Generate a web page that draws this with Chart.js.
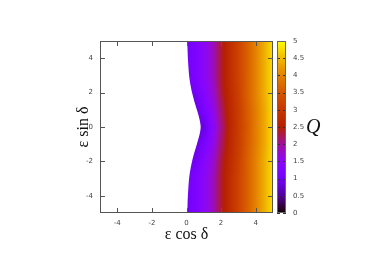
<!DOCTYPE html>
<html><head><meta charset="utf-8">
<script src="https://cdn.jsdelivr.net/npm/chart.js@4.4.0/dist/chart.umd.min.js"></script>
<style>
html,body{margin:0;padding:0;background:#fff;}
#wrap{position:relative;width:374px;height:262px;}
canvas{position:absolute;left:0;top:0;}
</style></head><body>
<div id="wrap"><canvas id="main" width="374" height="262"></canvas><canvas id="cbar" width="374" height="262"></canvas></div>
<script>
// boundary of the coloured region (eps cos delta at each eps sin delta)
const boundaryY = [-5,-4.5,-4,-3.5,-3,-2.5,-2,-1.5,-1,-0.5,0,0.5,1,1.5,2,2.5,3,3.5,4,4.5,5];
const boundaryX = [0.05,0.06,0.08,0.11,0.15,0.22,0.32,0.45,0.6,0.74,0.82,0.74,0.6,0.45,0.32,0.22,0.15,0.11,0.08,0.06,0.05];
// Q read on a coarse grid: columns = eps cos delta, rows = eps sin delta (null = outside the region)
const gridX = [0,0.5,1,1.5,2,2.5,3,3.5,4,4.5,5];
const gridY = [-5,-4,-3,-2,-1,0,1,2,3,4,5];
const qRowM5 = [1.0,1.2,1.45,1.8,2.35,2.8,3.2,3.6,4.0,4.4,4.8];
const qRowM4 = [1.0,1.2,1.45,1.8,2.35,2.8,3.2,3.6,4.0,4.4,4.8];
const qRowM3 = [1.0,1.2,1.45,1.8,2.35,2.8,3.2,3.6,4.0,4.4,4.8];
const qRowM2 = [null,1.0,1.35,1.7,2.3,2.75,3.15,3.6,4.0,4.4,4.8];
const qRowM1 = [null,0.8,1.15,1.55,2.15,2.7,3.1,3.55,3.95,4.35,4.8];
const qRow0  = [null,null,0.85,1.4,2.05,2.65,3.1,3.5,3.95,4.35,4.8];
const qRowP1 = [null,0.8,1.15,1.55,2.15,2.7,3.1,3.55,3.95,4.35,4.8];
const qRowP2 = [null,1.0,1.35,1.7,2.3,2.75,3.15,3.6,4.0,4.4,4.8];
const qRowP3 = [1.0,1.2,1.45,1.8,2.35,2.8,3.2,3.6,4.0,4.4,4.8];
const qRowP4 = [1.0,1.2,1.45,1.8,2.35,2.8,3.2,3.6,4.0,4.4,4.8];
const qRowP5 = [1.0,1.2,1.45,1.8,2.35,2.8,3.2,3.6,4.0,4.4,4.8];
const qRows = [qRowM5,qRowM4,qRowM3,qRowM2,qRowM1,qRow0,qRowP1,qRowP2,qRowP3,qRowP4,qRowP5];
const xTicks = [-4,-2,0,2,4];
const yTicks = [-4,-2,0,2,4];
const qTicks = [0,0.5,1,1.5,2,2.5,3,3.5,4,4.5,5];
const qRange = [0,5];
const xRange = [-5,5];
const yRange = [-5,5];

function palRGB(q){
  const t=Math.min(1,Math.max(0,q/5));
  return [Math.sqrt(t), t*t*t, Math.max(0,Math.sin(2*Math.PI*t))].map(c=>Math.round(c*255));
}
function pal(q){ const c=palRGB(q); return 'rgb('+c[0]+','+c[1]+','+c[2]+')'; }
function rowQ(row, xv){
  // fill leading nulls with first known value
  let first=row.findIndex(v=>v!==null);
  if(xv<=gridX[first]) return row[first];
  for(let i=first;i<gridX.length-1;i++){
    if(xv<=gridX[i+1]){ const f=(xv-gridX[i])/(gridX[i+1]-gridX[i]); return row[i]+(row[i+1]-row[i])*f; }
  }
  return row[row.length-1];
}
let heatCache=null;
function heatPattern(chart){
  const a=chart.chartArea; if(!a) return pal(1);
  const key=[a.left,a.top,a.right,a.bottom].join(',');
  if(heatCache && heatCache.key===key) return heatCache.pat;
  const sx=chart.scales.x, sy=chart.scales.y;
  const W=chart.width, H=chart.height;
  const off=document.createElement('canvas'); off.width=W; off.height=H;
  const octx=off.getContext('2d');
  const img=octx.createImageData(W,H);
  const L=Math.floor(a.left), R=Math.ceil(a.right), T=Math.floor(a.top), B=Math.ceil(a.bottom);
  for(let py=T;py<B;py++){
    const yv=Math.min(gridY[gridY.length-1],Math.max(gridY[0],sy.getValueForPixel(py+0.5)));
    let j=0; while(j<gridY.length-2 && yv>gridY[j+1]) j++;
    const w=(yv-gridY[j])/(gridY[j+1]-gridY[j]);
    for(let px=L;px<R;px++){
      const xv=sx.getValueForPixel(px+0.5);
      const q=rowQ(qRows[j],xv)*(1-w)+rowQ(qRows[j+1],xv)*w;
      const c=palRGB(q); const k=(py*W+px)*4;
      img.data[k]=c[0]; img.data[k+1]=c[1]; img.data[k+2]=c[2]; img.data[k+3]=255;
    }
  }
  octx.putImageData(img,0,0);
  const pat=chart.ctx.createPattern(off,'no-repeat');
  heatCache={key,pat};
  return pat;
}
function cbGrad(chart){
  const a=chart.chartArea; if(!a) return pal(0);
  const sy=chart.scales.y;
  const p0=sy.getPixelForValue(qRange[0]), p1=sy.getPixelForValue(qRange[1]);
  const g=chart.ctx.createLinearGradient(0,p0,0,p1);
  for(let i=0;i<=50;i++){ g.addColorStop(i/50, pal(qRange[0]+(qRange[1]-qRange[0])*i/50)); }
  return g;
}
const frame={
  id:'frame',
  afterDatasetsDraw(chart){
    const {ctx, chartArea:a, scales:{x,y}}=chart;
    ctx.save();
    ctx.strokeStyle='#555'; ctx.lineWidth=1;
    ctx.beginPath();
    xTicks.forEach(v=>{const p=Math.round(x.getPixelForValue(v))+0.5;
      ctx.moveTo(p,a.bottom); ctx.lineTo(p,a.bottom-5); ctx.moveTo(p,a.top); ctx.lineTo(p,a.top+5);});
    yTicks.forEach(v=>{const p=Math.round(y.getPixelForValue(v))+0.5;
      ctx.moveTo(a.left,p); ctx.lineTo(a.left+5,p); ctx.moveTo(a.right,p); ctx.lineTo(a.right-5,p);});
    ctx.stroke();
    ctx.strokeRect(a.left+0.5,a.top+0.5,a.right-a.left-1,a.bottom-a.top-1);
    ctx.restore();
  }
};
const tickFont={family:'DejaVu Sans',size:7};
new Chart(document.getElementById('main'),{
  type:'line',
  data:{datasets:[{
    data:boundaryY.map((yv,i)=>({x:boundaryX[i],y:yv})),
    fill:{value:xRange[1]}, borderWidth:0, pointRadius:0, tension:0.3,
    backgroundColor:ctx=>heatPattern(ctx.chart)
  }]},
  options:{
    indexAxis:'y', responsive:false, animation:false, devicePixelRatio:1,
    layout:{padding:{left:0,right:101,top:41,bottom:0}},
    plugins:{legend:{display:false},tooltip:{enabled:false}},
    scales:{
      x:{type:'linear',min:xRange[0],max:xRange[1],
        afterBuildTicks:s=>{s.ticks=xTicks.map(v=>({value:v}));},
        afterFit:s=>{s.height=49;},
        grid:{display:false,drawTicks:false},border:{display:false},
        ticks:{padding:6,font:tickFont,color:'#444',maxRotation:0,callback:v=>String(v)},
        title:{display:true,text:'ε cos δ',font:{family:'Liberation Serif',size:16},color:'#111',padding:{top:0,bottom:18}}},
      y:{type:'linear',min:yRange[0],max:yRange[1],
        afterBuildTicks:s=>{s.ticks=yTicks.map(v=>({value:v}));},
        afterFit:s=>{s.width=100;},
        grid:{display:false,drawTicks:false},border:{display:false},
        ticks:{padding:7,font:tickFont,color:'#444',callback:v=>String(v)},
        title:{display:true,text:'ε sin δ',font:{family:'Liberation Serif',size:16},color:'#111',padding:{top:74,bottom:0}}}
    }
  },
  plugins:[frame]
});
const cbFrame={
  id:'cbFrame',
  afterDatasetsDraw(chart){
    const {ctx, chartArea:a, scales:{y}}=chart;
    ctx.save();
    ctx.strokeStyle='#333'; ctx.lineWidth=1;
    ctx.beginPath();
    qTicks.forEach(v=>{const p=Math.round(y.getPixelForValue(v))+0.5;
      ctx.moveTo(a.left,p); ctx.lineTo(a.left+3,p); ctx.moveTo(a.right,p); ctx.lineTo(a.right-3,p);});
    ctx.stroke();
    ctx.strokeStyle='#666';
    ctx.strokeRect(a.left+0.5,a.top+0.5,a.right-a.left-1,a.bottom-a.top-1);
    ctx.fillStyle='#111';
    ctx.font='italic 20px "Liberation Serif"';
    ctx.textBaseline='alphabetic'; ctx.textAlign='left';
    ctx.fillText('Q',306,133);
    ctx.restore();
  }
};
new Chart(document.getElementById('cbar'),{
  type:'bar',
  data:{labels:['Q'],datasets:[{data:[qRange],backgroundColor:ctx=>cbGrad(ctx.chart),barPercentage:1,categoryPercentage:1,borderWidth:0}]},
  options:{
    responsive:false, animation:false, devicePixelRatio:1,
    layout:{padding:{left:277,top:41,bottom:49,right:0}},
    plugins:{legend:{display:false},tooltip:{enabled:false}},
    scales:{
      x:{display:false},
      y:{position:'right',min:qRange[0],max:qRange[1],
        afterBuildTicks:s=>{s.ticks=qTicks.map(v=>({value:v}));},
        afterFit:s=>{s.width=88;},
        grid:{display:false,drawTicks:false},border:{display:false},
        ticks:{padding:7,font:tickFont,color:'#444',callback:v=>String(v)}}
    }
  },
  plugins:[cbFrame]
});
</script></body></html>
